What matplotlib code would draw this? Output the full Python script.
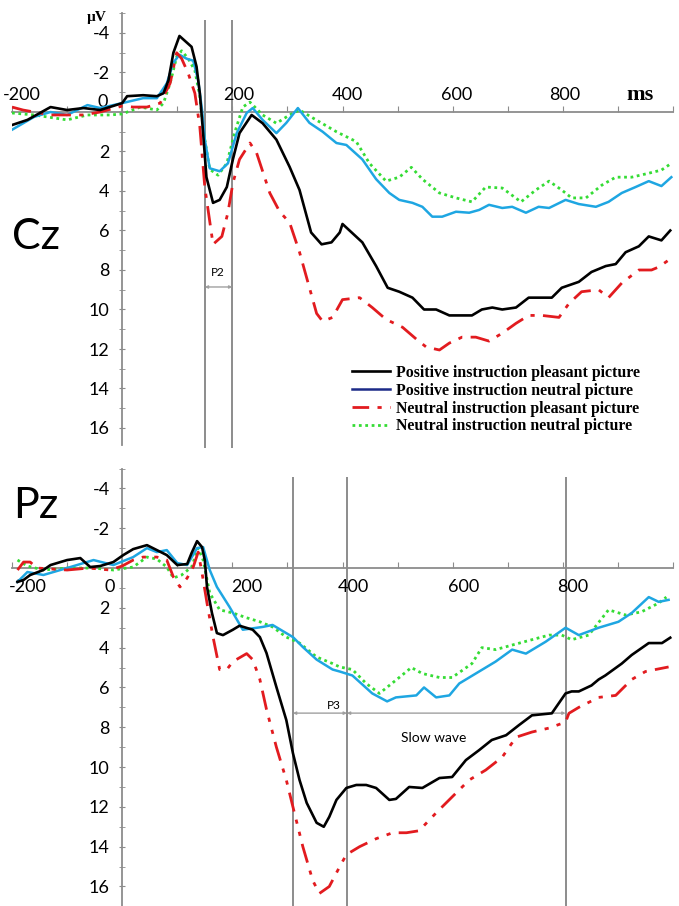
import matplotlib
matplotlib.use("Agg")
import matplotlib.pyplot as plt
from matplotlib.lines import Line2D

plt.rcParams['font.family'] = ['Lato', 'DejaVu Sans']

# ---- Cz (time in ms, amplitude in microvolts, negative up) ----
cz_black_t = [-200, -172, -130, -100, -70, -40, 0, 9, 38, 63, 75, 84, 93, 104, 114, 126, 135, 141, 147, 153,
              165, 177, 190, 201, 213, 235, 255, 280, 304, 322, 343, 362, 380, 395, 400, 436, 461, 482, 503, 527,
              548, 570, 594, 617, 635, 653, 672, 690, 715, 738, 762, 780, 798, 829, 852, 878, 896, 914, 938, 956,
              979, 995]
cz_black_v = [0.66, 0.4, -0.25, -0.1, -0.2, -0.1, -0.45, -0.8, -0.85, -0.8, -0.95, -1.6, -3.0, -3.85, -3.6, -3.3, -2.3, -0.95, 1.07, 3.3,
              4.6, 4.45, 3.8, 2.4, 1.07, 0.15, 0.57, 1.4, 2.78, 3.95, 6.1, 6.7, 6.6, 6.1, 5.67, 6.6, 7.8, 8.9, 9.1, 9.4,
              10.0, 10.0, 10.3, 10.3, 10.3, 10.0, 9.9, 10.0, 9.9, 9.4, 9.4, 9.4, 8.9, 8.6, 8.1, 7.8, 7.7, 7.1, 6.8, 6.3,
              6.5, 6.0]

cz_blue_t = [-200, -160, -130, -100, -63, -40, 0, 38, 63, 81, 93, 104, 117, 129, 138, 145, 150, 159, 177, 192,
             208, 226, 237, 255, 280, 298, 319, 340, 364, 389, 407, 436, 461, 485, 503, 527, 545, 563, 581, 606,
             630, 648, 666, 690, 708, 733, 756, 775, 805, 829, 860, 883, 907, 932, 956, 979, 997]
cz_blue_v = [0.9, 0.25, 0, 0.15, -0.35, -0.2, -0.45, -0.7, -0.7, -1.45, -2.5, -2.9, -2.7, -2.6, -1.6, -0.1, 1.4, 2.85, 3.0, 2.6,
             1.07, 0.05, -0.2, 0.4, 1.07, 0.55, -0.2, 0.55, 1.0, 1.57, 1.67, 2.4, 3.4, 4.1, 4.45, 4.6, 4.8, 5.3, 5.3, 5.05,
             5.1, 4.96, 4.7, 4.86, 4.8, 5.1, 4.8, 4.86, 4.45, 4.66, 4.8, 4.55, 4.1, 3.8, 3.5, 3.75, 3.3]

cz_red_t = [-200, -180, -130, -70, -40, 0, 20, 45, 69, 87, 99, 108, 120, 132, 141, 150, 165, 181, 192, 201,
            213, 232, 244, 268, 286, 304, 322, 340, 353, 364, 382, 400, 431, 454, 479, 509, 534, 552, 576, 594,
            617, 642, 666, 690, 715, 738, 762, 793, 811, 834, 865, 883, 907, 938, 961, 974, 992]
cz_red_v = [-0.25, -0.1, 0.15, 0.15, 0.0, -0.3, -0.25, -0.25, -0.45, -1.45, -3.0, -2.7, -1.95, -0.95, 0.75, 3.8, 6.7, 6.3, 5.1, 3.6,
            2.4, 1.57, 2.07, 4.1, 5.05, 5.6, 7.1, 8.9, 10.2, 10.6, 10.4, 9.5, 9.4, 9.9, 10.5, 10.9, 11.5, 11.9, 12.05, 11.7,
            11.4, 11.4, 11.6, 11.2, 10.7, 10.3, 10.3, 10.4, 9.7, 9.1, 9.0, 9.4, 8.66, 8.0, 8.0, 7.85, 7.5]

cz_green_t = [-200, -160, -100, -63, -22, 0, 33, 63, 75, 87, 99, 108, 120, 132, 141, 148, 159, 174, 190, 204,
              219, 232, 255, 280, 304, 322, 346, 389, 425, 449, 479, 503, 525, 545, 576, 606, 635, 660, 690, 724,
              751, 775, 798, 816, 842, 871, 896, 925, 956, 979, 997]
cz_green_v = [0.05, 0.15, 0.4, 0.15, 0.15, 0.1, -0.25, -0.1, -0.45, -1.45, -2.8, -3.1, -2.7, -2.1, -0.8, 1.07, 2.9, 3.2, 2.6, 1.07,
              -0.25, -0.5, 0.15, 0.57, 0.15, -0.1, 0.3, 1.0, 1.5, 2.6, 3.5, 3.3, 2.8, 3.4, 4.1, 4.35, 4.55, 3.8, 3.85, 4.55,
              3.95, 3.5, 3.95, 4.35, 4.35, 3.7, 3.3, 3.3, 3.1, 2.94, 2.6]

# ---- Pz ----
pz_black_t = [-190, -179, -167, -143, -130, -100, -76, -58, -40, -16, 2, 20, 45, 63, 81, 100, 118, 126, 136, 145,
              150, 154, 163, 172, 183, 201, 213, 237, 250, 262, 280, 298, 310, 322, 335, 353, 366, 376, 389, 407,
              425, 443, 461, 485, 497, 521, 545, 576, 599, 624, 648, 671, 697, 720, 744, 780, 805, 816, 829, 852,
              865, 877, 907, 925, 956, 980, 995]
pz_black_v = [0.7, 0.6, 0.35, 0.1, -0.15, -0.4, -0.5, -0.05, -0.1, -0.3, -0.65, -0.95, -1.15, -0.9, -0.65, -0.15, -0.2, -0.75, -1.35, -1.05,
              -0.4, 0.95, 2.26, 3.27, 3.37, 3.1, 2.9, 3.1, 3.47, 4.27, 5.98, 7.64, 9.3, 10.65, 11.8, 12.8, 13.0, 12.5, 11.65, 11.05,
              10.9, 10.9, 11.05, 11.65, 11.6, 11.0, 11.05, 10.55, 10.5, 9.65, 9.15, 8.64, 8.4, 7.9, 7.4, 7.3, 6.3, 6.2, 6.2, 5.9,
              5.6, 5.4, 4.8, 4.37, 3.77, 3.77, 3.5]

pz_blue_t = [-190, -172, -143, -100, -52, -16, 20, 45, 63, 81, 100, 118, 136, 147, 159, 172, 195, 219, 255, 273,
             310, 328, 353, 382, 395, 418, 454, 481, 497, 534, 548, 570, 594, 612, 648, 678, 708, 733, 769, 805,
             829, 865, 901, 925, 956, 974, 992]
pz_blue_v = [0.7, 0.2, 0.35, 0.0, -0.4, -0.15, -0.55, -1.0, -0.8, -0.9, -0.25, -0.15, -1.0, -1.05, 0.1, 0.95, 1.96, 3.1, 2.96, 2.86,
             3.47, 3.97, 4.6, 5.1, 5.2, 5.4, 6.3, 6.7, 6.5, 6.4, 6.0, 6.5, 6.4, 5.8, 5.2, 4.7, 4.1, 4.3, 3.7, 3.0,
             3.37, 3.0, 2.7, 2.26, 1.46, 1.7, 1.6]

pz_red_t = [-190, -179, -167, -155, -100, -60, -22, 0, 20, 38, 63, 81, 93, 105, 118, 129, 138, 145, 154, 165,
            177, 190, 201, 226, 237, 250, 262, 280, 298, 310, 328, 346, 358, 376, 395, 407, 431, 461, 491, 516,
            539, 570, 599, 630, 660, 690, 715, 744, 775, 805, 811, 829, 865, 896, 925, 950, 968, 992]
pz_red_v = [0.1, -0.3, -0.3, 0.0, 0.1, 0.0, 0.1, -0.1, -0.4, -0.55, -0.55, -0.4, 0.45, 0.95, 0.5, -0.05, -0.8, 0.25, 1.76, 3.47,
            5.1, 5.1, 4.7, 4.3, 4.6, 5.6, 7.1, 9.0, 10.65, 12.0, 14.0, 15.7, 16.35, 16.0, 15.0, 14.4, 14.0, 13.6, 13.3, 13.3,
            13.2, 12.3, 11.5, 10.65, 10.15, 9.5, 8.5, 8.24, 8.04, 7.74, 7.3, 7.0, 6.5, 6.4, 5.6, 5.2, 5.1, 4.97]

pz_green_t = [-190, -172, -143, -100, -52, -16, 20, 45, 63, 81, 93, 108, 126, 138, 147, 159, 177, 201, 226, 250,
              273, 298, 322, 353, 382, 395, 418, 443, 467, 503, 525, 545, 576, 599, 635, 653, 678, 708, 744, 775,
              798, 816, 847, 883, 914, 943, 974, 988]
pz_green_v = [-0.4, -0.1, 0.1, 0.0, 0.0, 0.1, -0.05, -0.55, -0.45, -0.05, 0.5, 0.35, -0.05, -1.0, -0.4, 1.26, 2.1, 2.26, 2.5, 2.7,
              2.96, 3.47, 3.77, 4.47, 4.8, 4.97, 5.1, 5.8, 6.3, 5.5, 5.0, 5.3, 5.5, 5.5, 4.8, 4.0, 4.1, 3.87, 3.6, 3.37,
              3.37, 3.6, 3.37, 2.1, 2.36, 2.2, 1.76, 1.46]

legend_labels = ['Positive instruction pleasant picture', 'Positive instruction neutral picture',
                 'Neutral instruction pleasant picture', 'Neutral instruction neutral picture']

cz_windows = [150, 200]          # P2 window
pz_windows = [310, 408, 805]     # P3 / slow wave boundaries as drawn

y_ticks = [-4, -2, 2, 4, 6, 8, 10, 12, 14, 16]

BLACK = '#000000'
BLUE = '#1ea6e2'
RED = '#e21b1f'
GREEN = '#35dc35'
GRAY = '#8c8c8c'

fig = plt.figure(figsize=(6.79, 9.06), dpi=100)
ax_cz = fig.add_axes([12 / 679, 1 - 447.75 / 906, 661 / 679, 434.5 / 906])
ax_pz = fig.add_axes([12 / 679, 0, 661 / 679, (906 - 468.5) / 906])


def style_axis(ax, y_bottom, spine_bottom):
    ax.set_xlim(-200, 1000)
    ax.set_ylim(y_bottom, -5)
    ax.patch.set_alpha(0)
    for s in ['top', 'right']:
        ax.spines[s].set_visible(False)
    ax.spines['left'].set_position(('data', 0))
    ax.spines['bottom'].set_position(('data', 0))
    for s in ['left', 'bottom']:
        ax.spines[s].set_color(GRAY)
        ax.spines[s].set_linewidth(1.3)
    ax.spines['left'].set_bounds(spine_bottom, -5)
    ax.set_xticks(range(-200, 1001, 100))
    ax.tick_params(axis='x', direction='in', length=4, color=GRAY, labelbottom=False)
    ax.set_yticks(y_ticks)
    ax.set_yticks(range(-5, 17), minor=True)
    ax.set_yticklabels([str(v) for v in y_ticks])
    ax.tick_params(axis='y', which='both', direction='inout', length=4, color=GRAY, labelsize=13, pad=7)


def draw_curves(ax, data, red_dash):
    (bt, bv), (ut, uv), (rt, rv), (gt, gv) = data
    ax.plot(gt, gv, color=GREEN, lw=2.0, linestyle=(0, (1, 1.3)), zorder=3)
    ax.plot(ut, uv, color=BLUE, lw=1.8, zorder=4)
    ax.plot(rt, rv, color=RED, lw=2.0, linestyle=(0, red_dash), zorder=5)
    ax.plot(bt, bv, color=BLACK, lw=1.9, zorder=6)


# ---- Cz panel ----
style_axis(ax_cz, 17, 16.85)
draw_curves(ax_cz, [(cz_black_t, cz_black_v), (cz_blue_t, cz_blue_v),
                    (cz_red_t, cz_red_v), (cz_green_t, cz_green_v)], (7, 3, 1.5, 3))
ax_cz.vlines(cz_windows, -4.65, 17, color=GRAY, lw=1.4, zorder=2)
ax_cz.annotate('', xy=(cz_windows[0], 8.86), xytext=(cz_windows[1], 8.86),
               arrowprops=dict(arrowstyle='<|-|>', color='#a0a0a0', lw=1, mutation_scale=4,
                               shrinkA=0, shrinkB=0))
ax_cz.text(174, 8.15, 'P2', fontsize=8.5, ha='center', va='center')

for x, lab in [(-182, '-200'), (-36, '0'), (212, '200'), (408, '400'), (608, '600'), (804, '800')]:
    yy = -0.5 if lab == '0' else -0.86
    ax_cz.text(x, yy, lab, fontsize=13, ha='center', va='center', clip_on=False)
ax_cz.text(940, -0.86, 'ms', fontsize=16, fontweight='bold', family='Liberation Serif',
           ha='center', va='center')
ax_cz.text(-47, -4.8, 'µV', fontsize=11, fontweight='bold', family='Liberation Serif',
           ha='center', va='center', clip_on=False)
ax_cz.text(-156, 6.33, 'Cz', fontsize=31, ha='center', va='center')

handles = [Line2D([], [], color=BLACK, lw=1.9),
           Line2D([], [], color='#1c2a88', lw=1.8),
           Line2D([], [], color=RED, lw=2.0, linestyle=(0, (6, 3, 1.5, 3, 1.5, 3))),
           Line2D([], [], color=GREEN, lw=2.0, linestyle=(0, (1, 1.3)))]
ax_cz.legend(handles, legend_labels, loc='upper left', bbox_to_anchor=(0.514, 0.191),
             frameon=False, borderpad=0, borderaxespad=0, handlelength=2.4, handletextpad=0.4,
             labelspacing=0.12, prop={'family': 'Liberation Serif', 'weight': 'bold', 'size': 11.4})

# ---- Pz panel ----
style_axis(ax_pz, 16.98, 16.98)
draw_curves(ax_pz, [(pz_black_t, pz_black_v), (pz_blue_t, pz_blue_v),
                    (pz_red_t, pz_red_v), (pz_green_t, pz_green_v)], (7, 3, 1.5, 3, 1.5, 3))
ax_pz.vlines(pz_windows, -4.57, 17, color=GRAY, lw=1.4, zorder=2)
for a, b in [(pz_windows[0], pz_windows[1]), (pz_windows[1], pz_windows[2])]:
    ax_pz.annotate('', xy=(a, 7.29), xytext=(b, 7.29),
                   arrowprops=dict(arrowstyle='<|-|>', color='#a0a0a0', lw=1, mutation_scale=4,
                                   shrinkA=0, shrinkB=0))
ax_pz.text(385, 6.9, 'P3', fontsize=8.5, ha='center', va='center')
ax_pz.text(565, 8.54, 'Slow wave', fontsize=10, ha='center', va='center')

for x, lab in [(-172, '-200'), (-23, '0'), (226, '200'), (420, '400'), (619, '600'), (818, '800')]:
    ax_pz.text(x, 0.95, lab, fontsize=13, ha='center', va='center')
ax_pz.text(-156, -3.1, 'Pz', fontsize=31, ha='center', va='center')

fig.savefig('out.png', dpi=100)
